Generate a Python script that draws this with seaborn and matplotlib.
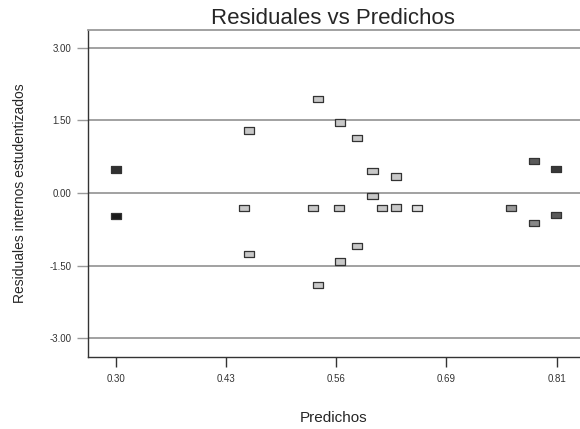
import numpy as np
import pandas as pd
import matplotlib
matplotlib.use("Agg")
import matplotlib.pyplot as plt
import seaborn as sns

# data
predichos = [0.300, 0.300, 0.448, 0.454, 0.454, 0.528, 0.534, 0.534,
             0.558, 0.559, 0.559, 0.579, 0.579, 0.597, 0.597, 0.608,
             0.624, 0.624, 0.648, 0.757, 0.784, 0.784, 0.809, 0.809]
residuales = [0.49, -0.47, -0.31, 1.29, -1.26, -0.31, 1.94, -1.90,
              -0.31, 1.46, -1.42, 1.14, -1.10, 0.45, -0.06, -0.31,
              0.34, -0.30, -0.31, -0.31, 0.66, -0.62, 0.50, -0.46]
tono = ["g1", "g0", "g7", "g7", "g7", "g7", "g7", "g7",
        "g7", "g7", "g7", "g7", "g7", "g7", "g7", "g7",
        "g7", "g7", "g8", "g5", "g3", "g4", "g2", "g3"]
tonos = {"g0": "#1a1a1a", "g1": "#303030", "g2": "#383838", "g3": "#5a5a5a",
         "g4": "#888888", "g5": "#999999", "g7": "#c8c8c8", "g8": "#dedede"}

x_ticks = [0.30, 0.4275, 0.555, 0.6825, 0.81]
x_labels = ["0.30", "0.43", "0.56", "0.69", "0.81"]
y_ticks = [-3.0, -1.5, 0.0, 1.5, 3.0]
y_labels = ["-3.00", "-1.50", "0.00", "1.50", "3.00"]

df = pd.DataFrame({"pred": predichos, "res": residuales, "tono": tono})

sns.set_style("white")
plt.rcParams["font.family"] = ["Liberation Sans", "DejaVu Sans"]

fig = plt.figure(figsize=(5.8, 4.29), dpi=100)
ax = fig.add_axes([88 / 580, 1 - 357 / 429, 1 - 88 / 580, (357 - 30) / 429])

rect = [(-1.6, -1), (1.6, -1), (1.6, 1), (-1.6, 1), (-1.6, -1)]
sns.scatterplot(data=df, x="pred", y="res", hue="tono", palette=tonos,
                marker=rect, s=55, edgecolor="#333333", linewidth=0.9,
                legend=False, ax=ax, zorder=3)

for yv in y_ticks:
    ax.axhline(yv, color="#9a9a9a", lw=1.3, zorder=1)

ax.set_xlim(0.2677, 0.837)
ax.set_ylim(-3.39, 3.37)
ax.set_xticks(x_ticks)
ax.set_xticklabels(x_labels)
ax.set_yticks(y_ticks)
ax.set_yticklabels(y_labels)
ax.tick_params(axis="x", direction="out", length=7, width=1, color="#333333",
               labelsize=7, labelcolor="#333333", pad=5, bottom=True)
ax.tick_params(axis="y", direction="out", length=8, width=1, color="#9a9a9a",
               labelsize=7, labelcolor="#333333", pad=4, left=True)

for side in ["left", "bottom"]:
    ax.spines[side].set_color("#333333")
    ax.spines[side].set_linewidth(1)
ax.spines["right"].set_visible(False)
ax.spines["top"].set_color("#9a9a9a")
ax.spines["top"].set_linewidth(1.3)

ax.set_xlabel("Predichos", fontsize=11, labelpad=20)
ax.set_ylabel("Residuales internos estudentizados", fontsize=10, labelpad=16)
fig.text(333 / 580, 1 - 18 / 429, "Residuales vs Predichos", fontsize=16,
         ha="center", va="center")

fig.savefig("out.png", dpi=100)
